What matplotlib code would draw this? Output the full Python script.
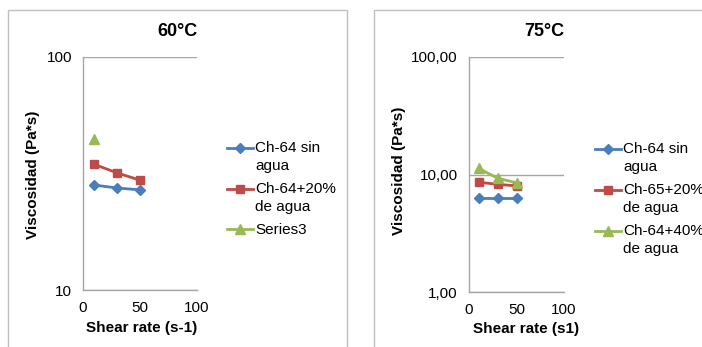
import matplotlib
matplotlib.use("Agg")
import matplotlib.pyplot as plt
import matplotlib.patches as patches
import numpy as np
from matplotlib.ticker import FixedLocator, FixedFormatter, NullLocator

plt.rcParams['font.family'] = ['Liberation Sans', 'DejaVu Sans']

# Data
shear = [10, 30, 50]

# 60 C
v60_sin_agua = [28.2, 27.4, 26.9]
v60_20 = [34.6, 31.8, 29.6]
shear_s3 = [10]
v60_series3 = [44.5]

# 75 C
v75_sin_agua = [6.3, 6.3, 6.3]
v75_20 = [8.6, 8.25, 8.0]
v75_40 = [11.3, 9.3, 8.5]

BLUE = '#4A7EBB'
RED = '#BE4B48'
GREEN = '#98B954'
GRAY = '#A6A6A6'

W, H = 702, 347
FS = 11


def fx(px):
    return px / W


def fy(py):
    return 1 - py / H


def style_axes(ax, ylim, yticks, ylabels):
    ax.set_yscale('log')
    ax.set_xlim(0, 100)
    ax.set_ylim(*ylim)
    ax.set_xticks([0, 50, 100])
    ax.set_xticklabels(['0', '50', '100'])
    ax.yaxis.set_major_locator(FixedLocator(yticks))
    ax.yaxis.set_major_formatter(FixedFormatter(ylabels))
    ax.yaxis.set_minor_locator(NullLocator())
    ax.tick_params(length=0, labelsize=FS, pad=8, colors='black')
    for s in ['top', 'right']:
        ax.spines[s].set_visible(False)
    for s in ['left', 'bottom']:
        ax.spines[s].set_color(GRAY)
        ax.spines[s].set_linewidth(1)
    ax.grid(axis='y', color=GRAY, linewidth=1)
    ax.set_axisbelow(True)
    ax.patch.set_alpha(0)


def excel_legend(ax, x, y):
    leg = ax.legend(loc='upper left', bbox_to_anchor=(fx(x), fy(y)), bbox_transform=fig.transFigure,
                    frameon=False, fontsize=FS, handlelength=1.7, handletextpad=0.15,
                    labelspacing=0.6, borderaxespad=0, borderpad=0)
    # Excel puts the key next to the first line of a wrapped label
    for h, t in zip(leg.legend_handles, leg.get_texts()):
        t.set_linespacing(1.35)
        if '\n' in t.get_text():
            h.set_ydata(np.asarray(h.get_ydata()) + FS * 0.6)
    return leg


fig = plt.figure(figsize=(W / 100, H / 100), dpi=100)

# panel frames
fig.patches.append(patches.Rectangle((fx(8), -0.1), fx(347) - fx(8), fy(10) + 0.1,
                                     transform=fig.transFigure, fill=False,
                                     edgecolor='#BFBFBF', linewidth=1))
fig.patches.append(patches.Rectangle((fx(374), -0.1), 0.5, fy(10) + 0.1,
                                     transform=fig.transFigure, fill=False,
                                     edgecolor='#BFBFBF', linewidth=1))

lw = 2
ms = 6

# left chart
ax1 = fig.add_axes([fx(83), fy(290), fx(197) - fx(83), fy(57) - fy(290)])
style_axes(ax1, (10, 100), [10, 100], ['10', '100'])
ax1.plot(shear, v60_sin_agua, color=BLUE, marker='D', lw=lw, ms=ms - 1, label='Ch-64 sin\nagua')
ax1.plot(shear, v60_20, color=RED, marker='s', lw=lw, ms=ms, label='Ch-64+20%\nde agua')
ax1.plot(shear_s3, v60_series3, color=GREEN, marker='^', lw=lw, ms=ms + 1, label='Series3')
excel_legend(ax1, 227, 141)

# right chart
ax2 = fig.add_axes([fx(469), fy(292), fx(564) - fx(469), fy(57) - fy(292)])
style_axes(ax2, (1, 100), [1, 10, 100], ['1,00', '10,00', '100,00'])
ax2.plot(shear, v75_sin_agua, color=BLUE, marker='D', lw=lw, ms=ms - 1, label='Ch-64 sin\nagua')
ax2.plot(shear, v75_20, color=RED, marker='s', lw=lw, ms=ms, label='Ch-65+20%\nde agua')
ax2.plot(shear, v75_40, color=GREEN, marker='^', lw=lw, ms=ms + 1, label='Ch-64+40%\nde agua')
excel_legend(ax2, 595, 142)

# titles and axis labels
fig.text(fx(177), fy(32), '60°C', ha='center', va='center', fontsize=13, fontweight='bold')
fig.text(fx(544), fy(32), '75°C', ha='center', va='center', fontsize=13, fontweight='bold')
fig.text(fx(142), fy(328), 'Shear rate (s-1)', ha='center', va='center', fontsize=FS, fontweight='bold')
fig.text(fx(526), fy(329), 'Shear rate (s1)', ha='center', va='center', fontsize=FS, fontweight='bold')
fig.text(fx(33), fy(175), 'Viscosidad (Pa*s)', ha='center', va='center', rotation=90,
         fontsize=FS, fontweight='bold')
fig.text(fx(399), fy(171), 'Viscosidad (Pa*s)', ha='center', va='center', rotation=90,
         fontsize=FS, fontweight='bold')

fig.savefig('out.png', dpi=100)
